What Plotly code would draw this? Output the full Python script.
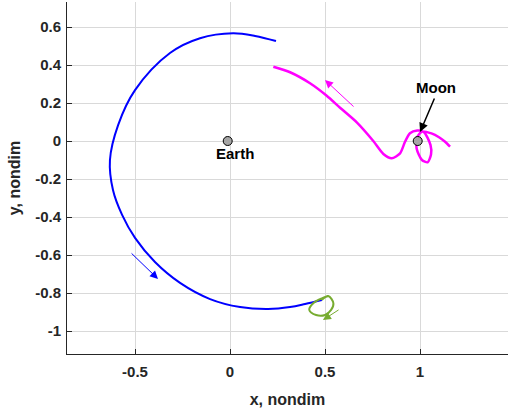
import plotly.graph_objects as go

# ---- data (nondimensional CR3BP coordinates) ----
blue_x = [0.242, 0.132, 0.016, -0.158, -0.316, -0.5, -0.589, -0.632, -0.616, -0.568, -0.5, -0.395, -0.263, -0.105, 0.053, 0.2, 0.316, 0.395, 0.483]
blue_y = [0.526, 0.553, 0.567, 0.541, 0.463, 0.268, 0.084, -0.1, -0.258, -0.389, -0.51, -0.637, -0.747, -0.832, -0.874, -0.884, -0.874, -0.858, -0.837]

green_x = [0.483, 0.517, 0.544, 0.532, 0.5, 0.453, 0.417, 0.438, 0.483, 0.517]
green_y = [-0.837, -0.816, -0.854, -0.889, -0.916, -0.916, -0.889, -0.854, -0.828, -0.816]

mag_x = [0.228, 0.316, 0.421, 0.509, 0.579, 0.667, 0.754, 0.807, 0.851, 0.895, 0.921, 0.947, 0.985, 1.02, 1.055, 1.058, 1.04, 1.01, 0.982, 0.985, 1.01, 1.06, 1.10, 1.132, 1.158]
mag_y = [0.391, 0.362, 0.304, 0.238, 0.175, 0.098, 0.0, -0.068, -0.091, -0.065, -0.004, 0.041, 0.055, 0.048, -0.02, -0.07, -0.112, -0.1, -0.04, 0.02, 0.05, 0.04, 0.02, -0.004, -0.03]

bodies_x = [-0.0122, 0.9878]
bodies_y = [0.0, 0.0]
body_names = ["Earth", "Moon"]

# direction arrows: (tail_x, tail_y, head_x, head_y, color)
arrows = [
    (-0.526, -0.584, -0.379, -0.726, "#0000FF"),
    (0.658, 0.174, 0.5, 0.321, "#FF00FF"),
    (0.579, -0.884, 0.489, -0.942, "#77AC30"),
]

x_ticks = [-0.5, 0, 0.5, 1]
x_tick_labels = ["-0.5", "0", "0.5", "1"]
y_ticks = [-1, -0.8, -0.6, -0.4, -0.2, 0, 0.2, 0.4, 0.6]
y_tick_labels = ["-1", "-0.8", "-0.6", "-0.4", "-0.2", "0", "0.2", "0.4", "0.6"]

FONT = "Liberation Sans, Arial, Helvetica, sans-serif"
TXT = "#262626"

fig = go.Figure()
fig.add_trace(go.Scatter(x=blue_x, y=blue_y, mode="lines", line=dict(color="#0000FF", width=2, shape="spline")))
fig.add_trace(go.Scatter(x=green_x, y=green_y, mode="lines", line=dict(color="#77AC30", width=2, shape="spline")))
fig.add_trace(go.Scatter(x=mag_x, y=mag_y, mode="lines", line=dict(color="#FF00FF", width=2.5, shape="spline", smoothing=0.7)))
fig.add_trace(go.Scatter(x=bodies_x, y=bodies_y, mode="markers",
                         marker=dict(size=9, color="#A6A6A6", line=dict(color="#000000", width=1))))

for tx, ty, hx, hy, c in arrows:
    fig.add_annotation(x=hx, y=hy, ax=tx, ay=ty, xref="x", yref="y", axref="x", ayref="y",
                       text="", showarrow=True, arrowhead=2, arrowsize=1.6, arrowwidth=1,
                       arrowcolor=c, standoff=0, startstandoff=0)

# Earth label
fig.add_annotation(x=0.026, y=-0.068, xref="x", yref="y", text="<b>Earth</b>", showarrow=False,
                   font=dict(family=FONT, size=15, color="#000000"))
# Moon label + pointer
fig.add_annotation(x=1.084, y=0.284, xref="x", yref="y", text="<b>Moon</b>", showarrow=False,
                   font=dict(family=FONT, size=15, color="#000000"))
fig.add_annotation(x=1.0, y=0.047, ax=1.079, ay=0.232, xref="x", yref="y", axref="x", ayref="y",
                   text="", showarrow=True, arrowhead=2, arrowsize=1.2, arrowwidth=1.5,
                   arrowcolor="#000000", standoff=0, startstandoff=0)

axis_common = dict(showgrid=True, gridcolor="#D9D9D9", gridwidth=1, zeroline=False,
                   showline=True, linecolor=TXT, linewidth=1, ticks="inside", ticklen=5,
                   tickcolor=TXT, tickfont=dict(family=FONT, size=15, color=TXT, weight="bold"),
                   mirror=False)

fig.update_xaxes(range=[-0.858, 1.463], tickvals=x_ticks, ticktext=x_tick_labels, ticklabelstandoff=4,
                 title=dict(text="<b>x, nondim</b>", font=dict(family=FONT, size=16, color=TXT), standoff=14),
                 **axis_common)
fig.update_yaxes(range=[-1.121, 0.7316], tickvals=y_ticks, ticktext=y_tick_labels, ticklabelstandoff=2,
                 title=dict(text="<b>y, nondim</b>", font=dict(family=FONT, size=16, color=TXT), standoff=10),
                 **axis_common)

fig.update_layout(width=508, height=409, margin=dict(l=67, r=0, t=2, b=55),
                  paper_bgcolor="white", plot_bgcolor="white", showlegend=False)

fig.write_html("out.html", config={"displayModeBar": False},
               post_script="document.body.style.margin='0';document.body.style.overflow='hidden';"
                           "document.documentElement.style.overflow='hidden';")
